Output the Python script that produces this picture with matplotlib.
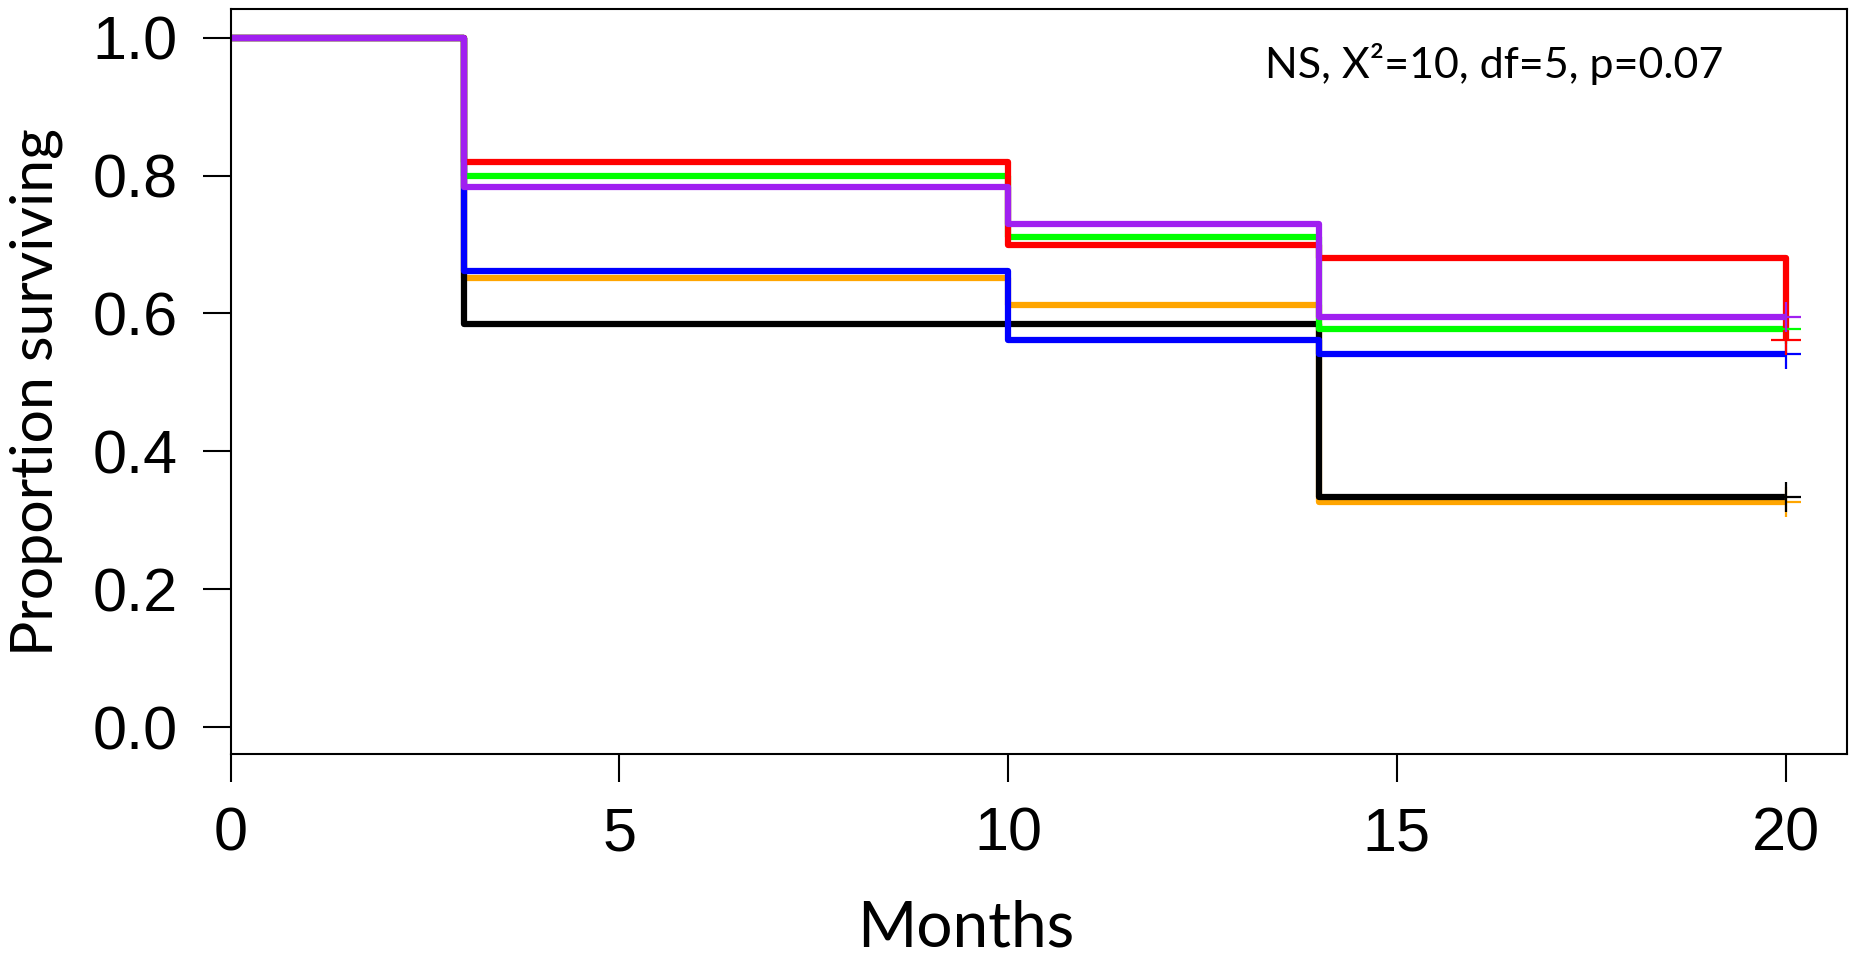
import matplotlib
matplotlib.use("Agg")
import matplotlib.pyplot as plt

# Data
times = [0, 3, 10, 14, 20]
red = [1.0, 0.820, 0.700, 0.680, 0.561]
green = [1.0, 0.800, 0.711, 0.578, 0.578]
purple = [1.0, 0.784, 0.730, 0.595, 0.595]
blue = [1.0, 0.661, 0.562, 0.541, 0.541]
orange = [1.0, 0.652, 0.612, 0.327, 0.327]
black = [1.0, 0.584, 0.584, 0.334, 0.334]
x_ticks = [0, 5, 10, 15, 20]
y_ticks = [0.0, 0.2, 0.4, 0.6, 0.8, 1.0]
annotation = "NS, X\u00b2=10, df=5, p=0.07"

series = [
    (orange, "#FFA500"),
    (black, "#000000"),
    (blue, "#0000FF"),
    (green, "#00FF00"),
    (red, "#FF0000"),
    (purple, "#A020F0"),
]

fig = plt.figure(figsize=(18.54, 9.66), dpi=100)
ax = fig.add_axes([0.1244, 0.2195, 0.8718, 0.7707])

for vals, col in series:
    ax.step(times, vals, where="post", color=col, lw=4.5, solid_joinstyle="round",
            solid_capstyle="butt")
for vals, col in series:
    ax.plot([times[-1]], [vals[-1]], marker="+", ms=22, mew=1.6, color=col, ls="none")

ax.set_xlim(0, 20.79)
ax.set_ylim(-0.039, 1.041)
ax.set_xticks(x_ticks)
ax.set_xticklabels([str(t) for t in x_ticks])
ax.set_yticks(y_ticks)
ax.set_yticklabels([f"{v:.1f}" for v in y_ticks])

for sp in ax.spines.values():
    sp.set_linewidth(1.5)
ax.tick_params(axis="both", direction="out", length=20.5, width=1.5,
               labelsize=44, colors="black")
ax.tick_params(axis="x", pad=17)
ax.tick_params(axis="y", pad=17.5)
for lab in ax.get_xticklabels() + ax.get_yticklabels():
    lab.set_fontfamily("Liberation Sans")

fig.text(0.521, 0.0200, "Months", family="Lato", fontsize=46,
         ha="center", va="baseline")
fig.text(0.0195, 0.594, "Proportion surviving", family="Lato", fontsize=42.5,
         rotation=90, ha="center", va="center")
fig.text(0.9293, 0.919, annotation, family="Lato", fontsize=31,
         ha="right", va="baseline")

fig.savefig("out.png", dpi=100)
